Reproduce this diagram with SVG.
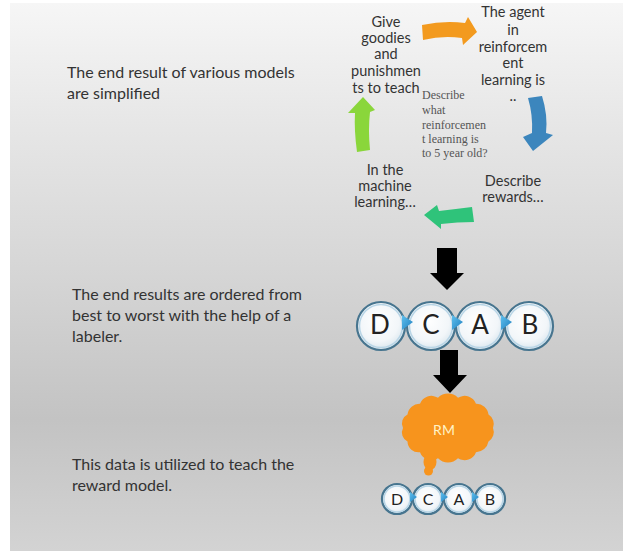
<svg xmlns="http://www.w3.org/2000/svg" width="623" height="551" viewBox="0 0 623 551">
<defs>
<linearGradient id="bg" x1="0" y1="0" x2="0" y2="1">
<stop offset="0" stop-color="#f6f6f6"/>
<stop offset="0.2" stop-color="#e8e8e8"/>
<stop offset="0.5" stop-color="#d5d5d5"/>
<stop offset="0.76" stop-color="#c3c3c3"/>
<stop offset="1" stop-color="#d3d3d3"/>
</linearGradient>
<radialGradient id="beadFill" cx="0.45" cy="0.4" r="0.6">
<stop offset="0" stop-color="#ffffff"/>
<stop offset="0.7" stop-color="#f2f6f9"/>
<stop offset="1" stop-color="#d9e6ee"/>
</radialGradient>
<linearGradient id="ptr" x1="0" y1="0" x2="1" y2="1">
<stop offset="0" stop-color="#5fc0ee"/>
<stop offset="1" stop-color="#1f7fbf"/>
</linearGradient>
<style>
.lbl{font-family:Lato,"Liberation Sans",sans-serif;font-size:16px;fill:#333333}
.cyc{font-family:Lato,"Liberation Sans",sans-serif;font-size:14.5px;fill:#333333;text-anchor:middle}
.serif{font-family:"Liberation Serif",serif;font-size:12px;fill:#555555}
.bead{fill:url(#beadFill);stroke:#47758f;stroke-width:2.2}
.beadIn{fill:none;stroke:#b8d5e6;stroke-width:1.5}
.ptr{fill:url(#ptr)}
.bigL{font-family:Lato,"Liberation Sans",sans-serif;font-size:26px;fill:#222222;text-anchor:middle}
.smL{font-family:Lato,"Liberation Sans",sans-serif;font-size:16px;fill:#222222;text-anchor:middle}
.blk{fill:#000000}
.cloud{fill:#f7941d}
</style>
</defs>
<rect x="0" y="0" width="623" height="551" fill="#ffffff"/>
<rect x="10" y="3" width="613" height="548" fill="url(#bg)"/>

<g id="text-step1">
<text class="lbl" x="67" y="78">The end result of various models</text>
<text class="lbl" x="67" y="99">are simplified</text>
</g>
<g id="text-step2">
<text class="lbl" x="72" y="300">The end results are ordered from</text>
<text class="lbl" x="72" y="321">best to worst with the help of a</text>
<text class="lbl" x="72" y="342">labeler.</text>
</g>
<g id="text-step3">
<text class="lbl" x="72" y="470">This data is utilized to teach the</text>
<text class="lbl" x="72" y="491">reward model.</text>
</g>

<g id="cycle-give">
<text class="cyc" x="386" y="27">Give</text>
<text class="cyc" x="386" y="43">goodies</text>
<text class="cyc" x="386" y="59">and</text>
<text class="cyc" x="386" y="76">punishmen</text>
<text class="cyc" x="386" y="93">ts to teach</text>
</g>
<g id="cycle-agent">
<text class="cyc" x="513" y="17">The agent</text>
<text class="cyc" x="513" y="35">in</text>
<text class="cyc" x="513" y="52">reinforcem</text>
<text class="cyc" x="513" y="68">ent</text>
<text class="cyc" x="513" y="85">learning is</text>
<text class="cyc" x="513" y="101">..</text>
</g>
<g id="cycle-rewards">
<text class="cyc" x="513" y="186">Describe</text>
<text class="cyc" x="513" y="202">rewards…</text>
</g>
<g id="cycle-ml">
<text class="cyc" x="385" y="175">In the</text>
<text class="cyc" x="385" y="191">machine</text>
<text class="cyc" x="385" y="207">learning…</text>
</g>
<g id="cycle-center">
<text class="serif" x="422" y="99">Describe</text>
<text class="serif" x="422" y="114">what</text>
<text class="serif" x="422" y="129">reinforcemen</text>
<text class="serif" x="422" y="143">t learning is</text>
<text class="serif" x="422" y="157">to 5 year old?</text>
</g>

<g id="ranking-big">
<circle class="bead" cx="381" cy="326" r="24"/><circle class="beadIn" cx="381" cy="326" r="21.5"/>
<circle class="bead" cx="431" cy="326" r="24"/><circle class="beadIn" cx="431" cy="326" r="21.5"/>
<circle class="bead" cx="480" cy="326" r="24"/><circle class="beadIn" cx="480" cy="326" r="21.5"/>
<circle class="bead" cx="529" cy="326" r="24"/><circle class="beadIn" cx="529" cy="326" r="21.5"/>
<path class="ptr" d="M402 315 L413 322 L402 330 Z"/>
<path class="ptr" d="M452 315 L463 322 L452 330 Z"/>
<path class="ptr" d="M501 315 L512 322 L501 330 Z"/>
<text class="bigL" x="380" y="334">D</text>
<text class="bigL" x="431" y="334">C</text>
<text class="bigL" x="480" y="334">A</text>
<text class="bigL" x="530" y="334">B</text>
</g>

<g id="reward-model">
<path class="cloud" d="M493 428 A11 11 0 0 1 488.5 441.5 A13 13 0 0 1 476 452.2 A12 12 0 0 1 458 458.2 A14 14 0 0 1 438 458.2 A12 12 0 0 1 420 452.2 A11 11 0 0 1 407.5 441.5 A10 10 0 0 1 403 428 A10 10 0 0 1 407.5 414.5 A12 12 0 0 1 420 403.8 A12 12 0 0 1 438 397.8 A14 14 0 0 1 458 397.8 A12 12 0 0 1 476 403.8 A12 12 0 0 1 488.5 414.5 A11 11 0 0 1 493 428 Z"/>
<ellipse class="cloud" cx="430" cy="462" rx="6.5" ry="8"/>
<circle class="cloud" cx="428.5" cy="471" r="4.5"/>
<text x="444" y="435" text-anchor="middle" font-family="Lato,'Liberation Sans',sans-serif" font-size="14" fill="#fff3c8">RM</text>
</g>

<g id="ranking-small">
<circle class="bead" cx="397" cy="499" r="15" stroke-width="1.8"/><circle class="beadIn" cx="397" cy="499" r="13" stroke-width="1.2"/>
<circle class="bead" cx="428" cy="499" r="15" stroke-width="1.8"/><circle class="beadIn" cx="428" cy="499" r="13" stroke-width="1.2"/>
<circle class="bead" cx="459" cy="499" r="15" stroke-width="1.8"/><circle class="beadIn" cx="459" cy="499" r="13" stroke-width="1.2"/>
<circle class="bead" cx="490" cy="499" r="15" stroke-width="1.8"/><circle class="beadIn" cx="490" cy="499" r="13" stroke-width="1.2"/>
<path class="ptr" d="M410 492 L417 497 L410 502 Z"/>
<path class="ptr" d="M441 492 L448 497 L441 502 Z"/>
<path class="ptr" d="M472 492 L479 497 L472 502 Z"/>
<text class="smL" x="397" y="505">D</text>
<text class="smL" x="428" y="505">C</text>
<text class="smL" x="459" y="505">A</text>
<text class="smL" x="490" y="505">B</text>
</g>

<g id="connectors">
<path fill="#f39a1e" d="M422 25 Q445 20 465 23 L468 17 L477 32 L463 45 L462 38 Q443 35 423 40 Z"/>
<path fill="#3c86bd" d="M528 98 L542 96 Q548 115 546 133 L553 135 L533 151 L523 137 L532 133 Q533 115 528 98 Z"/>
<path fill="#2fc37a" d="M424 215 L437 205 L439 211 Q456 209 472 207 L474 222 Q457 222 441 224 L441 229 Z"/>
<path fill="#8ad63b" d="M363 97 L375 110 L370 112 Q368 130 370 150 L357 152 Q354 130 355 113 L348 113 Z"/>
<path class="blk" d="M437 248 H457 V273 H464 L447 290 L430 273 H437 Z"/>
<path class="blk" d="M440 350 H458 V375 H467 L450 393 L433 375 H440 Z"/>
</g>
</svg>
